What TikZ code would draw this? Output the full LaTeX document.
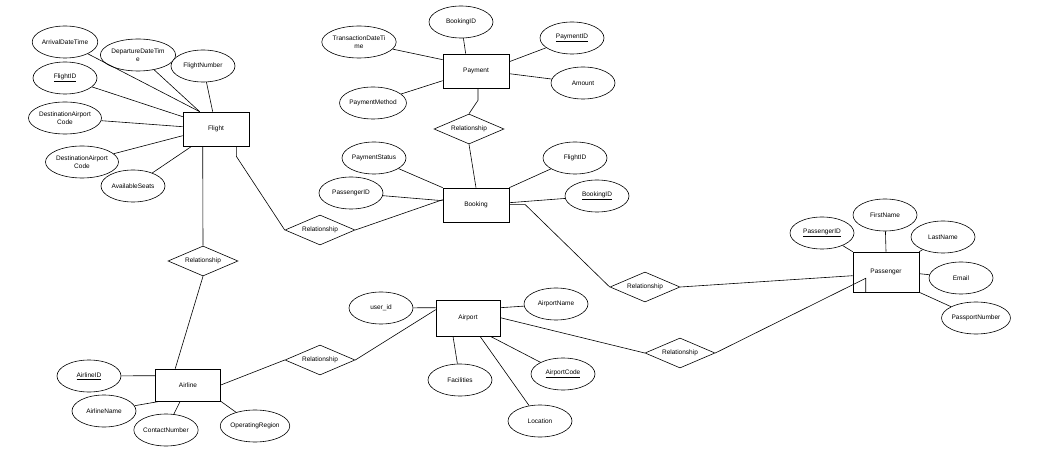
\documentclass[tikz,border=0pt]{standalone}
\usepackage{fontspec}
\setmainfont{Liberation Sans}
\usetikzlibrary{shapes.geometric}
\begin{document}
\begin{tikzpicture}[x=1pt,y=-1pt,line width=0.6pt,
  ent/.style={draw,fill=white,minimum width=66pt,minimum height=34pt,font=\fontsize{6.5}{7.5}\selectfont},
  attr/.style={draw,fill=white,ellipse,minimum width=64pt,minimum height=32pt,inner sep=0pt,align=center,font=\fontsize{6.5}{7.5}\selectfont},
  rel/.style={draw,fill=white,diamond,aspect=2.3,minimum width=70pt,minimum height=30pt,inner sep=0pt,font=\fontsize{6.5}{7.5}\selectfont}]
\useasboundingbox[fill=white] (0,0) rectangle (1047,470);
% entities
\node[ent] (flight) at (216,129) {Flight};
\node[ent] (payment) at (476,71) {Payment};
\node[ent] (booking) at (476,205) {Booking};
\node[ent,minimum height=40pt] (passenger) at (886,272) {Passenger};
\node[ent,minimum width=64pt,minimum height=36pt] (airport) at (468,318) {Airport};
\node[ent,minimum width=65pt,minimum height=32pt] (airline) at (188,385) {Airline};
% relationships
\node[rel] (r1) at (320,230) {Relationship};
\node[rel] (r2) at (203,261) {Relationship};
\node[rel] (r3) at (469,129) {Relationship};
\node[rel] (r4) at (645,287) {Relationship};
\node[rel] (r5) at (680,353) {Relationship};
\node[rel] (r6) at (320,360) {Relationship};
% flight attrs
\node[attr] (fa1) at (65,42) {ArrivalDateTime};
\node[attr] (fa2) at (138,55) {DepartureDateTim\\e};
\node[attr] (fa3) at (203,66) {FlightNumber};
\node[attr] (fa4) at (65,78) {\underline{FlightID}};
\node[attr] (fa5) at (65,118) {DestinationAirport\\Code};
\node[attr] (fa6) at (82,162) {DestinationAirport\\Code};
\node[attr] (fa7) at (133,186) {AvailableSeats};
\begin{scope}[on background layer/.style={}]
\end{scope}
% payment attrs
\node[attr] (pa1) at (461,22) {BookingID};
\node[attr] (pa2) at (359,42) {TransactionDateTi\\me};
\node[attr] (pa3) at (572,38) {\underline{PaymentID}};
\node[attr] (pa4) at (583,83) {Amount};
\node[attr] (pa5) at (373,103) {PaymentMethod};
% booking attrs
\node[attr] (ba1) at (374,158) {PaymentStatus};
\node[attr] (ba2) at (351,193) {PassengerID};
\node[attr] (ba3) at (575,158) {FlightID};
\node[attr] (ba4) at (597,196) {\underline{BookingID}};
% passenger attrs
\node[attr] (sa1) at (822,233) {\underline{PassengerID}};
\node[attr] (sa2) at (885,215) {FirstName};
\node[attr] (sa3) at (943,237) {LastName};
\node[attr] (sa4) at (961,278) {Email};
\node[attr] (sa5) at (976,318) {PassportNumber};
% airport attrs
\node[attr] (aa1) at (381,308) {user\_id};
\node[attr] (aa2) at (556,304) {AirportName};
\node[attr] (aa3) at (460,380) {Facilities};
\node[attr] (aa4) at (563,374) {\underline{AirportCode}};
\node[attr] (aa5) at (540,421) {Location};
% airline attrs
\node[attr] (la1) at (89,376) {\underline{AirlineID}};
\node[attr] (la2) at (104,411) {AirlineName};
\node[attr] (la3) at (166,430) {ContactNumber};
\node[attr] (la4) at (255,426) {OperatingRegion};
% attribute connectors
\draw (fa1) -- ([xshift=17pt]flight.north west);
\draw (fa2) -- ([xshift=17pt]flight.north west);
\draw (fa3) -- ([xshift=30pt]flight.north west);
\draw (fa4) -- ([yshift=-5pt]flight.north west);
\draw (fa5) -- ([yshift=-15pt]flight.north west);
\draw (fa6) -- ([yshift=-24pt]flight.north west);
\draw (fa7) -- ([xshift=9pt]flight.south west);
\draw (pa1) -- ([xshift=23pt]payment.north west);
\draw (pa2) -- ([yshift=-6pt]payment.north west);
\draw (pa3) -- ([yshift=-8pt]payment.north east);
\draw (pa4) -- ([yshift=-20pt]payment.north east);
\draw (pa5) -- ([yshift=-27pt]payment.north west);
\draw (ba1) -- (booking.north west);
\draw (ba2) -- ([yshift=-13pt]booking.north west);
\draw (ba3) -- (booking.north east);
\draw (ba4) -- ([yshift=-15pt]booking.north east);
\draw (sa1) -- (passenger.north west);
\draw (sa2) -- (passenger.north);
\draw (sa3) -- (passenger.north east);
\draw (sa4) -- ([yshift=-22pt]passenger.north east);
\draw (sa5) -- (passenger.south east);
\draw (aa1) -- ([yshift=-8pt]airport.north west);
\draw (aa2) -- ([yshift=-8pt]airport.north east);
\draw (aa3) -- ([xshift=-15pt]airport.south);
\draw (aa4) -- ([xshift=-10pt]airport.south east);
\draw (aa5) -- ([xshift=12pt]airport.south);
\draw (la1) -- ([yshift=-7pt]airline.north west);
\draw (la2) -- ([xshift=5pt]airline.south west);
\draw (la3) -- ([xshift=25pt]airline.south west);
\draw (la4) -- (airline.south east);
% relationship connectors
\draw ([xshift=20pt]flight.south west) -- (r2.north);
\draw (r2.south) -- ([xshift=20pt]airline.north west);
\draw ([xshift=-13pt]flight.south east) -- ++(0,10) -- (r1.west);
\draw (r1.east) -- ([yshift=-12pt]booking.north west);
\draw ([xshift=2pt]payment.south) -- ++(0,12) -- (r3.north);
\draw (r3.south) -- ([xshift=0pt]booking.north) ++(0,0);
\draw ([yshift=-17pt]booking.north east) -- ++(16,0) -- (r4.west);
\draw (r4.east) -- ([yshift=-24pt]passenger.north west);
\draw (airline.east) -- (r6.west);
\draw (r6.east) -- ([yshift=-10pt]airport.north west);
\draw ([yshift=-18pt]airport.north east) -- (r5.west);
\draw (r5.east) -- ([xshift=13pt,yshift=14pt]passenger.south west) -- ([xshift=13pt]passenger.south west);
\end{tikzpicture}
\end{document}
